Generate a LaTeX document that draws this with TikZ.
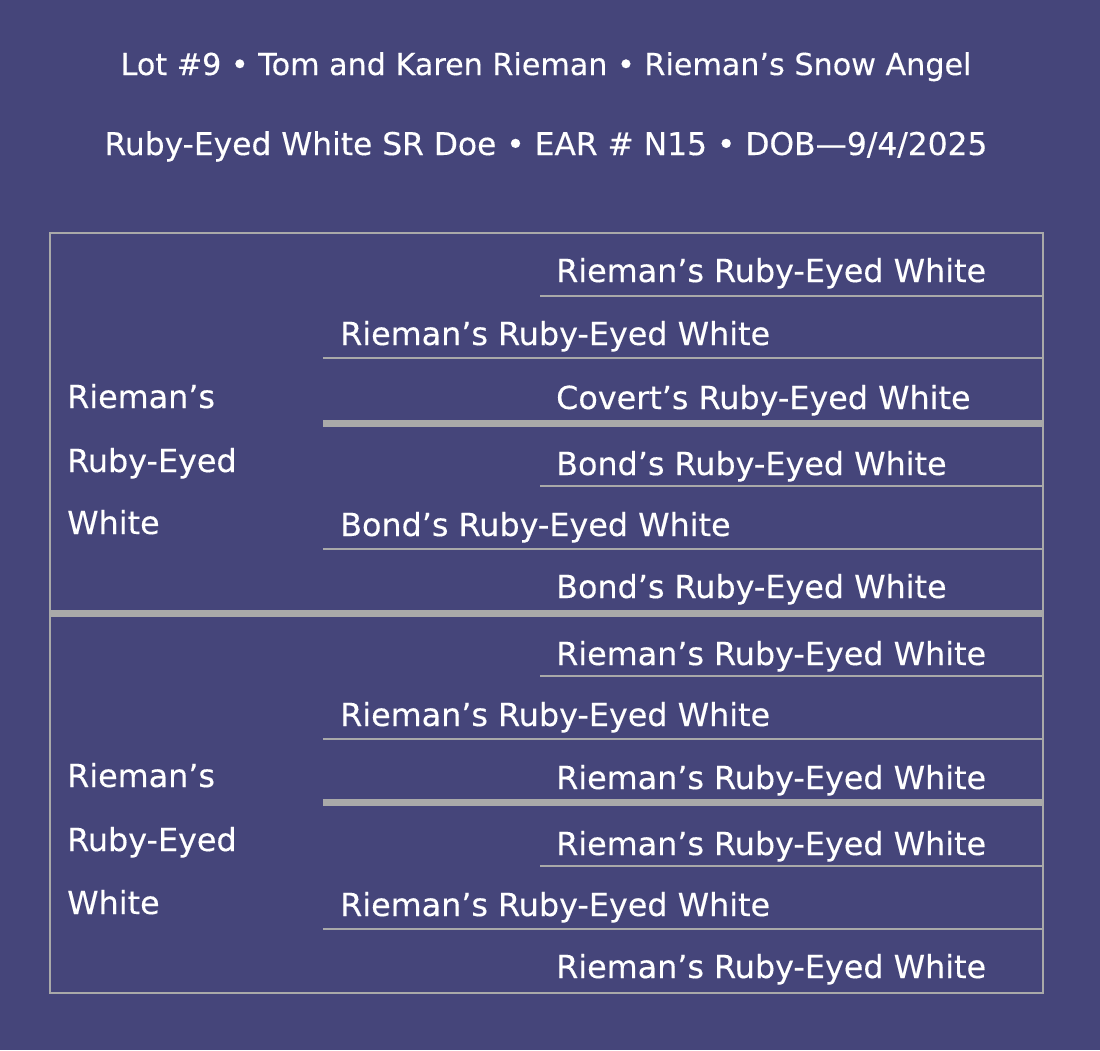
\documentclass[tikz,border=0pt]{standalone}
\usepackage{fontspec}
\setmainfont[FakeBold=0.3]{DejaVu Sans}
\definecolor{bg}{RGB}{69,69,122}
\definecolor{rulegray}{RGB}{169,169,169}
\begin{document}
\begin{tikzpicture}[x=1pt,y=-1pt,
  txt/.style={anchor=base west, inner sep=0pt, text=white, font=\fontsize{31.8}{36}\selectfont},
  hdr/.style={anchor=base, inner sep=0pt, text=white},
  thinrule/.style={draw=rulegray, line width=1.8pt},
  thickrule/.style={draw=rulegray, line width=7pt}]
\fill[bg] (0,0) rectangle (1100,1050);
\useasboundingbox (0,0) rectangle (1100,1050);

\node[hdr, font=\fontsize{30.2}{36}\selectfont] (h1) at (546,75) {Lot \#9 • Tom and Karen Rieman • Rieman’s Snow Angel};
\node[hdr, font=\fontsize{31.3}{36}\selectfont] (h2) at (546,155) {Ruby-Eyed White SR Doe • EAR \# N15 • DOB—9/4/2025};

% horizontal rules
\foreach \y/\x in {296/540, 358/323, 486/540, 549/323, 676/540, 739/323, 866/540, 929/323}
  \draw[thinrule] (\x,\y) -- (1043,\y);
\foreach \y/\x in {423/323, 613/50, 802/323}
  \draw[thickrule] (\x,\y) -- (1043,\y);

% outer frame
\draw[thinrule] (50,233) rectangle (1043,993);

% great-grandparents / grandparents / parents
\node[txt] (g1) at (556,282) {Rieman’s Ruby-Eyed White};
\node[txt] (p1) at (340,345) {Rieman’s Ruby-Eyed White};
\node[txt] (g2) at (556,409) {Covert’s Ruby-Eyed White};
\node[txt] (g3) at (556,475) {Bond’s Ruby-Eyed White};
\node[txt] (p2) at (340,536) {Bond’s Ruby-Eyed White};
\node[txt] (g4) at (556,598) {Bond’s Ruby-Eyed White};
\node[txt] (g5) at (556,665) {Rieman’s Ruby-Eyed White};
\node[txt] (p3) at (340,726) {Rieman’s Ruby-Eyed White};
\node[txt] (g6) at (556,789) {Rieman’s Ruby-Eyed White};
\node[txt] (g7) at (556,855) {Rieman’s Ruby-Eyed White};
\node[txt] (p4) at (340,916) {Rieman’s Ruby-Eyed White};
\node[txt] (g8) at (556,978) {Rieman’s Ruby-Eyed White};

% sire / dam
\node[txt] (s1) at (67,408) {Rieman’s};
\node[txt] (s2) at (67,472) {Ruby-Eyed};
\node[txt] (s3) at (67,534) {White};
\node[txt] (d1) at (67,787) {Rieman’s};
\node[txt] (d2) at (67,851) {Ruby-Eyed};
\node[txt] (d3) at (67,914) {White};
\end{tikzpicture}
\end{document}
